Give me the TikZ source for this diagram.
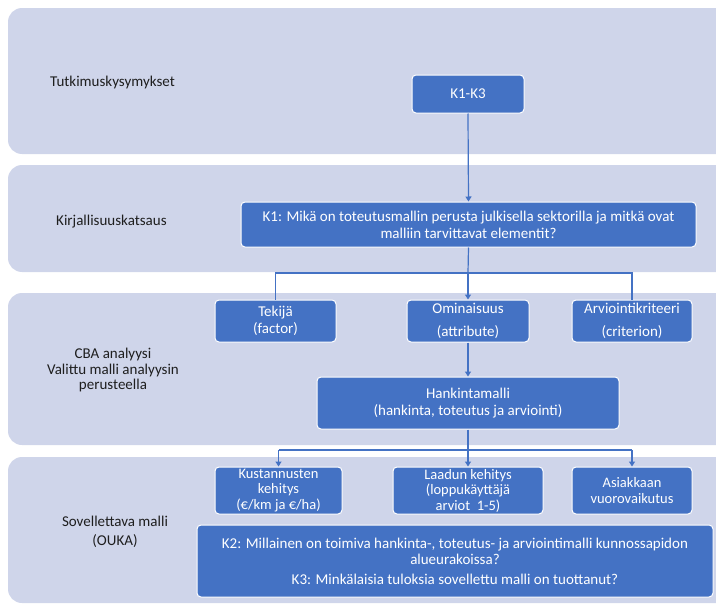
\documentclass[tikz,border=0pt]{standalone}
\usepackage{fontspec}
\setmainfont{Carlito}
\usetikzlibrary{arrows.meta}

\definecolor{bandfill}{HTML}{CFD5EA}
\definecolor{boxblue}{HTML}{4472C4}
\definecolor{labelgray}{HTML}{1E1E1E}

\tikzset{
  band/.style={fill=bandfill, draw=none, rounded corners=14pt},
  bluebox/.style={rectangle, fill=boxblue, draw=white, line width=1pt,
    rounded corners=4pt, text=white, align=center, inner sep=0pt,
    font=\fontsize{15}{17}\selectfont},
  smallbox/.style={bluebox, minimum height=47pt,
    font=\fontsize{14.5}{15.5}\selectfont},
  bandlabel/.style={text=labelgray, align=center, inner sep=0pt,
    font=\fontsize{15}{15.5}\selectfont},
  link/.style={draw=boxblue, line width=1.2pt},
  arrowlink/.style={link, -{Triangle[width=6pt,length=5pt]}},
}

\begin{document}
\begin{tikzpicture}[x=1pt,y=-1pt]
\useasboundingbox (0,0) rectangle (716,605);
\clip (0,0) rectangle (716,605);

% horizontal bands, running off the right edge
\fill[band] (8,8)   rectangle (740,154);
\fill[band] (8,165) rectangle (740,272);
\fill[band] (8,293) rectangle (740,445);
\fill[band] (8,457) rectangle (740,603);

% band titles
\node[bandlabel, anchor=west] (t1) at (50,83) {Tutkimuskysymykset};
\node[bandlabel, anchor=west] (t2) at (56,222) {Kirjallisuuskatsaus};
\node[bandlabel] (t3) at (113,370) {CBA analyysi\\Valittu malli analyysin\\perusteella};
\node[bandlabel, font=\fontsize{15}{19.5}\selectfont] (t4) at (115,532) {Sovellettava malli\\(OUKA)};

% boxes
\node[bluebox, minimum width=112pt, minimum height=38pt] (k13) at (468,94) {K1-K3};
\node[bluebox, minimum width=455pt, minimum height=45pt] (k1) at (468.5,224.5)
  {K1: Mikä on toteutusmallin perusta julkisella sektorilla ja mitkä ovat\\malliin tarvittavat elementit?};

\node[bluebox, minimum width=121pt, minimum height=42pt] (tek) at (275.5,321) {Tekijä\\(factor)};
\node[bluebox, minimum width=122pt, minimum height=42pt] (omi) at (468,321) {Ominaisuus\\[6pt](attribute)};
\node[bluebox, minimum width=120pt, minimum height=42pt] (arv) at (632,321) {Arviointikriteeri\\[6pt](criterion)};

\node[bluebox, minimum width=302pt, minimum height=52pt] (han) at (468,403)
  {Hankintamalli\\(hankinta, toteutus ja arviointi)};

\node[smallbox, minimum width=127pt] (kus) at (278.5,490.5)
  {Kustannusten\\kehitys\\(€/km ja €/ha)};
\node[smallbox, minimum width=150pt] (laa) at (468,490.5)
  {Laadun kehitys\\(loppukäyttäjä\\arviot\ \ 1-5)};
\node[smallbox, minimum width=120pt] (asi) at (632,490.5)
  {Asiakkaan\\vuorovaikutus};

\node[bluebox, minimum width=516pt, minimum height=72pt, font=\fontsize{15}{16}\selectfont] (k2) at (455,561)
  {K2: Millainen on toimiva hankinta-, toteutus- ja arviointimalli kunnossapidon\\alueurakoissa?\\[4pt]K3: Minkälaisia tuloksia sovellettu malli on tuottanut?};

% connectors
\draw[arrowlink] (k13.south) -- (k1.north);

\coordinate (j1) at (468,273);
\draw[link] (k1.south) -- (j1);
\draw[link] (tek.north) -- (tek.north |- j1) -- (arv.north |- j1) -- (arv.north);
\draw[arrowlink] (j1) -- (omi.north);

\draw[arrowlink] (omi.south) -- (han.north);

\coordinate (j2) at (468,450);
\draw[link] (han.south) -- (j2);
\draw[link] (kus.north |- j2) -- (asi.north |- j2);
\draw[arrowlink] (kus.north |- j2) -- (kus.north);
\draw[arrowlink] (j2) -- (laa.north);
\draw[arrowlink] (asi.north |- j2) -- (asi.north);
\end{tikzpicture}
\end{document}
